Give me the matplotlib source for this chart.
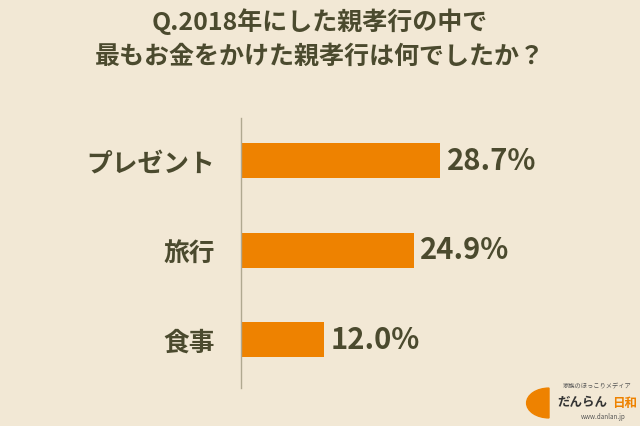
import matplotlib
matplotlib.use("Agg")
import matplotlib.pyplot as plt

plt.rcParams["font.family"] = ["Noto Sans CJK JP", "DejaVu Sans"]

categories = ["プレゼント", "旅行", "食事"]
values = [28.7, 24.9, 12.0]
value_labels = ["28.7%", "24.9%", "12.0%"]

BG = "#F2E8D5"
BAR = "#EE8200"
TEXT = "#4B4A2E"

fig = plt.figure(figsize=(6.4, 4.26), dpi=100, facecolor=BG)
ax = fig.add_axes([241 / 640, 1 - 388 / 426, 379 / 640, 270 / 426])
ax.set_facecolor(BG)

ypos = list(range(len(categories)))
ax.barh(ypos, values, height=0.39, color=BAR)
for y, v, lab in zip(ypos, values, value_labels):
    ax.text(v + 1.0, y, lab, va="center", ha="left", fontsize=21,
            fontweight="bold", color=TEXT)

ax.set_xlim(0, 54.7)
ax.set_ylim(2.54, -0.48)
ax.set_yticks(ypos)
ax.set_yticklabels(categories, fontsize=18.5, fontweight="bold", color=TEXT)
ax.tick_params(axis="y", length=0, pad=19)
ax.set_xticks([])
for s in ["top", "right", "bottom"]:
    ax.spines[s].set_visible(False)
ax.spines["left"].set_color("#B0A890")
ax.spines["left"].set_linewidth(1)

fig.text(0.5, 1 - 22 / 426, "Q.2018年にした親孝行の中で", ha="center", va="center",
         fontsize=18, fontweight="bold", color=TEXT)
fig.text(0.5, 1 - 57 / 426, "最もお金をかけた親孝行は何でしたか？", ha="center", va="center",
         fontsize=18, fontweight="bold", color=TEXT)

# logo
fig.text(597 / 640, 1 - 386 / 426, "家族のほっこりメディア", ha="center", va="center",
         fontsize=4.5, color="#555555")
fig.text(557 / 640, 1 - 403 / 426, "だんらん", ha="left", va="center",
         fontsize=9, color="#333333", fontweight="bold")
fig.text(637 / 640, 1 - 403 / 426, "日和", ha="right", va="center",
         fontsize=9, color=BAR, fontweight="bold")
fig.text(603 / 640, 1 - 417 / 426, "www.danlan.jp", ha="center", va="center",
         fontsize=4.5, color="#555555")
fig.patches.append(matplotlib.patches.Wedge((549 / 640, 1 - 403 / 426), 0.035, 90, 270,
                                            transform=fig.transFigure, color=BAR))

fig.savefig("out.png", dpi=100, facecolor=BG)
